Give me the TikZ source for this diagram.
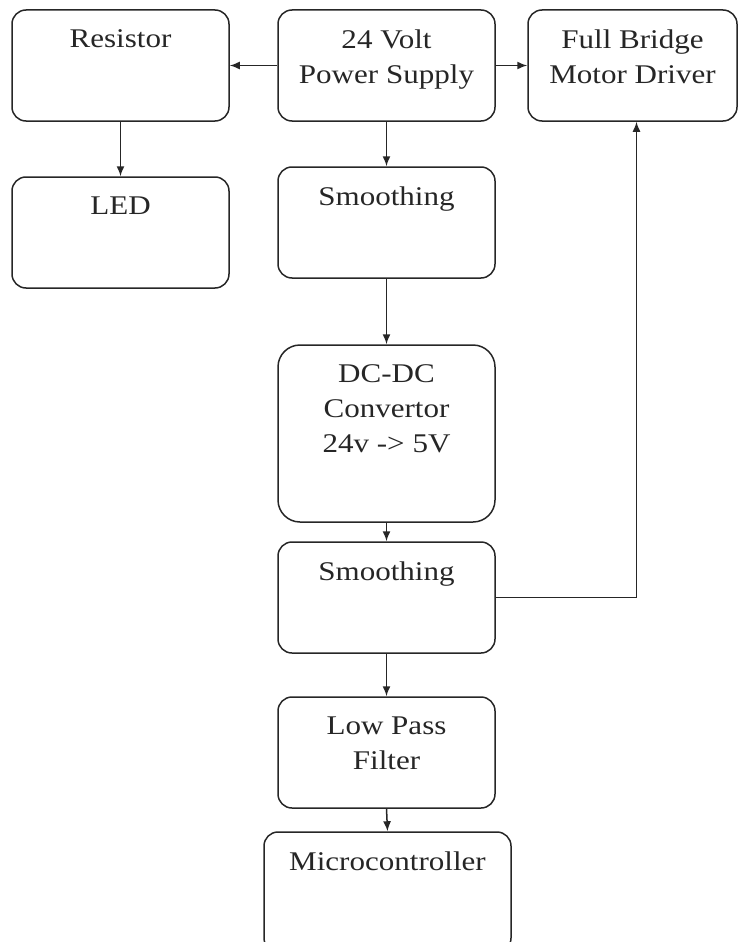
\documentclass[tikz,border=0pt]{standalone}
\usepackage{fontspec}
\setmainfont{Liberation Serif}[FakeStretch=1.15]
\usetikzlibrary{arrows.meta,positioning}

\tikzset{
  box/.style={draw=black!85, line width=1.5pt, rounded corners=14pt, minimum width=217pt, minimum height=111pt, inner sep=0pt},
  lbl/.style={anchor=north, align=center, inner sep=0pt, font=\fontsize{27}{35}\selectfont, text=black!85},
  flow/.style={->, line width=1.5pt, draw=black!85}
}

\begin{document}
\begin{tikzpicture}[x=1pt, y=1pt, >={Latex[length=10pt,width=8pt]}]
	\useasboundingbox (0,0) rectangle (739,-942);

	% boxes
	\node[box] (res) at (120.5,-65.5) {};
	\node[box] (psu) at (386.5,-65.5) {};
	\node[box, minimum width=209pt] (fbd) at (632.5,-65.5) {};
	\node[box] (led) at (120.5,-232.5) {};
	\node[box] (sm1) at (386.5,-222.5) {};
	\node[box, minimum height=177pt, rounded corners=22pt] (dcdc) at (386.5,-433.5) {};
	\node[box] (sm2) at (386.5,-597.5) {};
	\node[box] (lpf) at (386.5,-752.5) {};
	\node[box, minimum width=247pt, minimum height=120pt] (mcu) at (387.5,-892) {};

	% labels
	\node[lbl] (resT) at ([yshift=-20pt]res.north) {Resistor};
	\node[lbl] (psuT) at ([yshift=-20pt]psu.north) {24 Volt\\Power Supply};
	\node[lbl] (fbdT) at ([yshift=-20pt]fbd.north) {Full Bridge\\Motor Driver};
	\node[lbl] (ledT) at ([yshift=-20pt]led.north) {LED};
	\node[lbl] (sm1T) at ([yshift=-20pt]sm1.north) {Smoothing};
	\node[lbl] (dcdcT) at ([yshift=-20pt]dcdc.north) {DC-DC\\Convertor\\24v -> 5V};
	\node[lbl] (sm2T) at ([yshift=-20pt]sm2.north) {Smoothing};
	\node[lbl] (lpfT) at ([yshift=-20pt]lpf.north) {Low Pass\\Filter};
	\node[lbl] (mcuT) at ([yshift=-20pt]mcu.north) {Microcontroller};

	% connections
	\draw[flow] (psu.west) -- (res.east);
	\draw[flow] (psu.east) -- (fbd.west);
	\draw[flow] (res.south) -- (led.north);
	\draw[flow] (psu.south) -- (sm1.north);
	\draw[flow] (sm1.south) -- (dcdc.north);
	\draw[flow] (dcdc.south) -- (sm2.north);
	\draw[flow] (sm2.south) -- (lpf.north);
	\draw[flow] (lpf.south) -- (mcu.north);
	\draw[flow] (sm2.east) -| ([xshift=4pt]fbd.south);
\end{tikzpicture}
\end{document}
